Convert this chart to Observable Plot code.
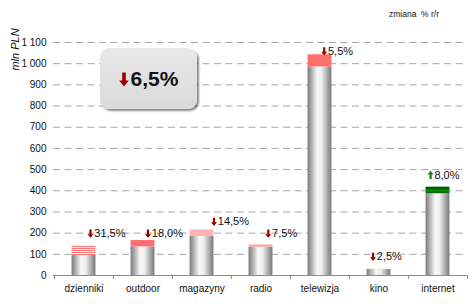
<!DOCTYPE html>
<html><head><meta charset="utf-8">
<script src="https://cdn.jsdelivr.net/npm/d3@7"></script>
<script src="https://cdn.jsdelivr.net/npm/@observablehq/plot@0.6"></script>
<style>
html,body{margin:0;padding:0;background:#fff;}
#wrap{position:relative;width:475px;height:304px;font-family:"Liberation Sans",Arial,sans-serif;}
#note{position:absolute;left:389px;top:9px;font-size:8.5px;color:#111;white-space:pre;}
#box{position:absolute;left:100px;top:48px;width:97px;height:61px;border-radius:9px;background:linear-gradient(#e8e8e9,#dadadb);box-shadow:2px 2px 2px rgba(0,0,0,0.45);display:flex;align-items:center;justify-content:center;font-weight:bold;font-size:21px;color:#111;}
#box svg{margin-right:2px;margin-top:2px;}
</style></head>
<body><div id="wrap"></div>
<script>
// ---- data ----
const categories = ["dzienniki","outdoor","magazyny","radio","telewizja","kino","internet"];
const previousYear = [139,165,215,144,1042,29,386];
const currentYear  = [95,135,184,133,985,28,417];
const changeLabels = ["31,5%","18,0%","14,5%","7,5%","5,5%","2,5%","8,0%"];
const changeDirection = ["down","down","down","down","down","down","up"];
const totalChange = "6,5%";
const totalDirection = "down";
const yTicks = [0,100,200,300,400,500,600,700,800,900,1000,1100];
const yLabel = "mln PLN";
const noteText = "zmiana  % r/r";

// ---- layout / style (not data) ----
const W = 475, H = 304, ML = 53, MR = 8, MT = 42, MB = 29;
const bw = (W - ML - MR) / categories.length;
const barInset = (bw - 24) / 2;
const noteAnchor = {dzienniki:[199,6.5], outdoor:[199,5], magazyny:[255,12], radio:[199,7.3], telewizja:[1060,4.2], kino:[90,-6], internet:[473,-7.4]};
const overlayFill = {dzienniki:"url(#stripes)", outdoor:"#ff6e6e", magazyny:"#ffb3b3", radio:"#f7a6a6", telewizja:"#ff6e6e", kino:"#ff9a9a", internet:"url(#green)"};
const arrowColor = {down:"#990000", up:"#1d7a1d"};

const rows = categories.map((c,i)=>({
  cat:c, prev:previousYear[i], curr:currentYear[i],
  base:Math.min(previousYear[i],currentYear[i]), top:Math.max(previousYear[i],currentYear[i]),
  label:changeLabels[i], dir:changeDirection[i]
}));

const fmt = d3.formatLocale({decimal:",", thousands:" ", grouping:[3], currency:["",""]}).format(",d");
const arrowSymbol = {draw(ctx){
  ctx.moveTo(0,-4.5); ctx.lineTo(3,-0.8); ctx.lineTo(1.1,-0.8); ctx.lineTo(1.1,3.8);
  ctx.lineTo(-1.1,3.8); ctx.lineTo(-1.1,-0.8); ctx.lineTo(-3,-0.8); ctx.closePath();
}};

const svg = Plot.plot({
  width: W, height: H,
  marginLeft: ML, marginRight: MR, marginTop: MT, marginBottom: MB,
  style: {fontFamily: "'Liberation Sans', Arial, sans-serif", fontSize: "10px", color:"#111", background:"transparent"},
  x: {domain: categories, padding: 0},
  y: {domain: [0, 1100]},
  color: {type: "identity"},
  marks: [
    Plot.gridY(yTicks.filter(d=>d>0), {stroke:"#a6a6a6", strokeOpacity:1, strokeDasharray:"7,4.5"}),
    Plot.axisY(yTicks, {tickSize:0, tickPadding:7, tickFormat: fmt, fontSize:10, label:null}),
    Plot.axisX({tickSize:0, tickPadding:9, fontSize:10, label:null}),
    Plot.barY(rows, {x:"cat", y1:0, y2:"base", fill:"url(#cyl)", insetLeft:barInset, insetRight:barInset}),
    Plot.barY(rows, {x:"cat", y1:"base", y2:"top", fill:d=>overlayFill[d.cat], insetLeft:barInset, insetRight:barInset}),
    Plot.ruleY([0], {stroke:"#8c8c8c"}),
    Plot.ruleX(categories, {x:d=>d, dx:-bw/2, stroke:"#8c8c8c", insetTop:H-MT-MB, insetBottom:-4}),
    Plot.ruleX(categories.slice(-1), {x:d=>d, dx:bw/2, stroke:"#8c8c8c", insetTop:H-MT-MB, insetBottom:-4}),
    Plot.dot(rows, {x:"cat", y:d=>noteAnchor[d.cat][0], symbol:arrowSymbol, r:3, stroke:null,
      fill:d=>arrowColor[d.dir], rotate:d=>d.dir==="up"?0:180}),
    Plot.text(rows, {x:"cat", y:d=>noteAnchor[d.cat][0], text:"label", textAnchor:"start", fontSize:11, fill:"#111"}),
    Plot.text([yLabel], {frameAnchor:"top-left", text:d=>d, rotate:-90, dx:-42, dy:7, fontSize:11, fontStyle:"italic", textAnchor:"middle", fill:"#111"})
  ]
});

// per-category horizontal offsets for the change annotations
svg.querySelectorAll("g[aria-label='dot'] path").forEach((p,i)=>{
  const c = rows[i].cat;
  p.setAttribute("transform", p.getAttribute("transform").replace(/translate\(([-\d.]+),([-\d.]+)\)/, (m,a,b)=>`translate(${+a+noteAnchor[c][1]},${b})`));
});
const textGroups = svg.querySelectorAll("g[aria-label='text']");
textGroups[0].querySelectorAll("text").forEach((t,i)=>{
  const c = rows[i].cat;
  const off = noteAnchor[c][1] + 3.8;
  const tr = t.getAttribute("transform");
  if (tr) t.setAttribute("transform", tr.replace(/translate\(([-\d.]+),([-\d.]+)\)/, (m,a,b)=>`translate(${+a+off},${b})`));
  else t.setAttribute("x", +t.getAttribute("x") + off);
});

// gradients and patterns
const defs = d3.select(svg).insert("defs", ":first-child");
const cyl = defs.append("linearGradient").attr("id","cyl").attr("x1",0).attr("x2",1).attr("y1",0).attr("y2",0);
[[0,"#7a7a7a"],[0.15,"#a9a9a9"],[0.4,"#f8f8f8"],[0.58,"#f0f0f0"],[0.85,"#a3a3a3"],[1,"#777"]].forEach(([o,c])=>cyl.append("stop").attr("offset",o).attr("stop-color",c));
const gr = defs.append("linearGradient").attr("id","green").attr("x1",0).attr("x2",0).attr("y1",0).attr("y2",1);
[[0,"#004d00"],[0.3,"#006a00"],[0.6,"#0a8a0a"],[1,"#006400"]].forEach(([o,c])=>gr.append("stop").attr("offset",o).attr("stop-color",c));
const pat = defs.append("pattern").attr("id","stripes").attr("patternUnits","userSpaceOnUse").attr("width",6).attr("height",2);
pat.append("rect").attr("width",6).attr("height",2).attr("fill","#fff");
pat.append("rect").attr("width",6).attr("height",1.1).attr("fill","#ff7575");

const wrap = document.getElementById("wrap");
wrap.appendChild(svg);
const note = document.createElement("div"); note.id = "note"; note.textContent = noteText; wrap.appendChild(note);
const box = document.createElement("div"); box.id = "box";
box.innerHTML = `<svg width="10" height="15" viewBox="-5 -7.5 10 15"><path transform="rotate(${totalDirection==="up"?0:180})" d="M0,-7 L4.8,-1 L1.8,-1 L1.8,7 L-1.8,7 L-1.8,-1 L-4.8,-1 Z" fill="${arrowColor[totalDirection]}"/></svg><span></span>`;
box.querySelector("span").textContent = totalChange;
wrap.appendChild(box);
</script>
</body></html>
